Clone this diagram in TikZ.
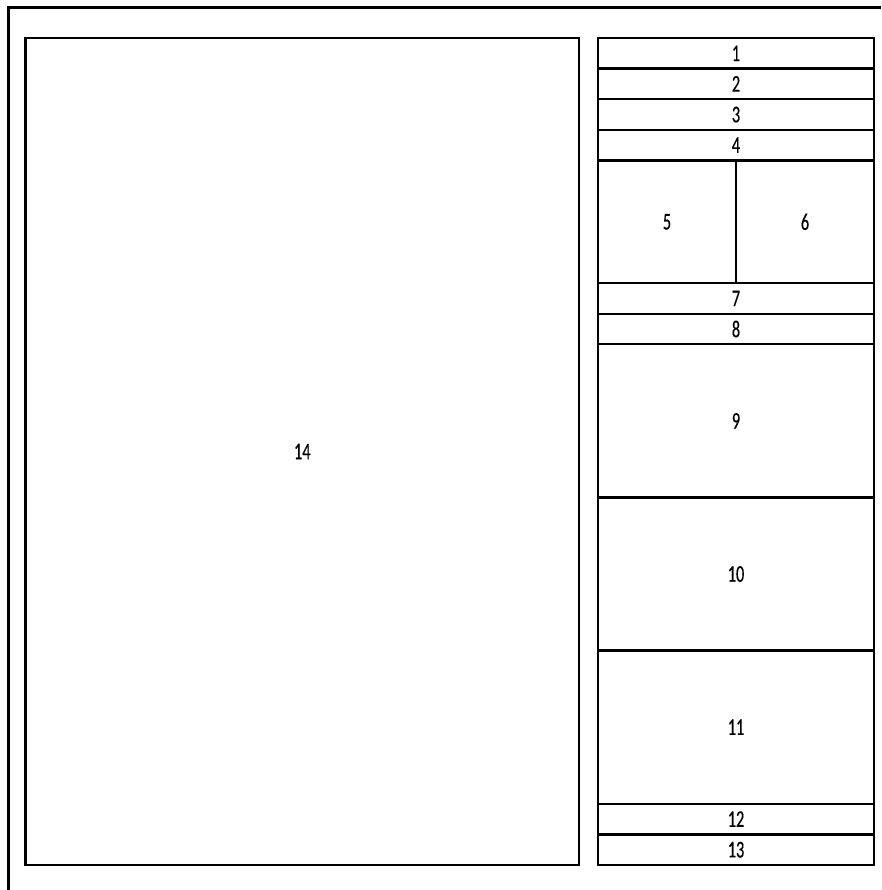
\documentclass[tikz,border=0pt]{standalone}
\usepackage{fontspec}
\setmainfont{Carlito}[FakeStretch=0.68, FakeBold=0.4]
\tikzset{
  cell/.style={draw, line width=2.2pt, rectangle, inner sep=0pt, font=\fontsize{24}{26}\selectfont},
}
\begin{document}
\begin{tikzpicture}[x=1pt, y=-1pt]
            \useasboundingbox (0,0) rectangle (881,890);
            % outer frame
            \coordinate (fa) at (8.5,890);
            \coordinate (fb) at (8.5,7.5);
            \coordinate (fc) at (881,7.5);
            \draw[line width=2.2pt] (fa) -- (fb) -- (fc);

            % big panel
            \node[cell, minimum width=553.5pt, minimum height=827pt] (c14) at (302.25,451.5) {14};

            % right column
            \node[cell, minimum width=276pt, minimum height=30.63pt] (c1) at (736,53.3) {1};
            \node[cell, minimum width=276pt, minimum height=30.63pt] (c2) at (736,83.9) {2};
            \node[cell, minimum width=276pt, minimum height=30.63pt] (c3) at (736,114.6) {3};
            \node[cell, minimum width=276pt, minimum height=30.63pt] (c4) at (736,145.2) {4};
            \node[cell, minimum width=138pt, minimum height=122.5pt] (c5) at (667,221.8) {5};
            \node[cell, minimum width=138pt, minimum height=122.5pt] (c6) at (805,221.8) {6};
            \node[cell, minimum width=276pt, minimum height=30.63pt] (c7) at (736,298.4) {7};
            \node[cell, minimum width=276pt, minimum height=30.63pt] (c8) at (736,329.0) {8};
            \node[cell, minimum width=276pt, minimum height=153.1pt] (c9) at (736,420.9) {9};
            \node[cell, minimum width=276pt, minimum height=153.1pt] (c10) at (736,574.0) {10};
            \node[cell, minimum width=276pt, minimum height=153.1pt] (c11) at (736,727.2) {11};
            \node[cell, minimum width=276pt, minimum height=30.63pt] (c12) at (736,819.1) {12};
            \node[cell, minimum width=276pt, minimum height=30.63pt] (c13) at (736,849.7) {13};
\end{tikzpicture}
\end{document}
